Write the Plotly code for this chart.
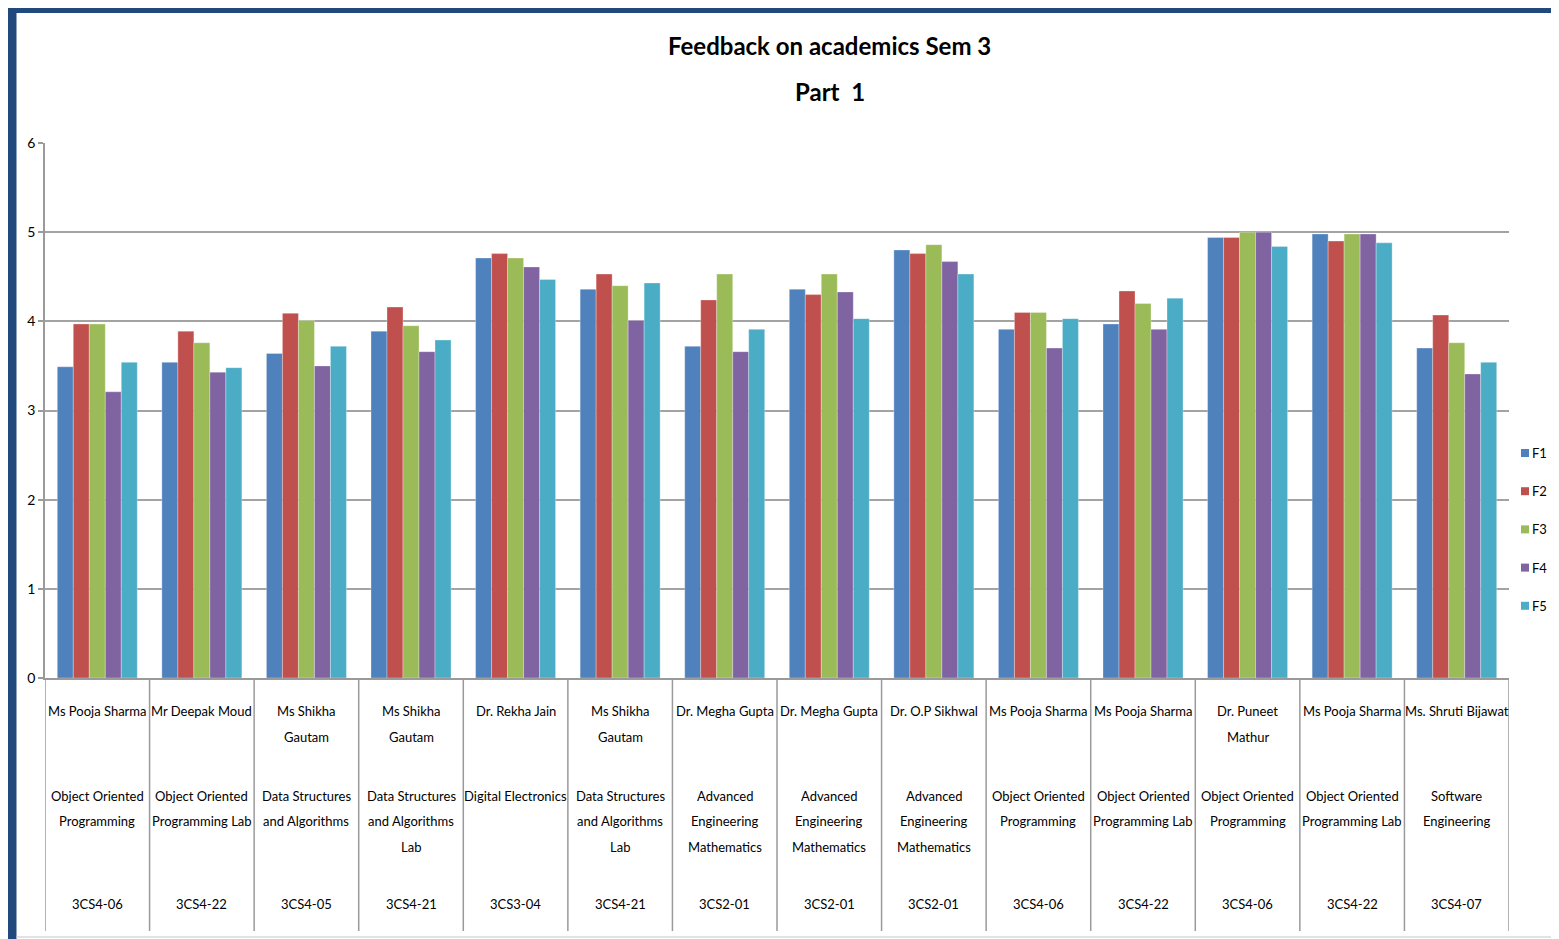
import plotly.graph_objects as go

teachers = [
    "Ms Pooja Sharma", "Mr Deepak Moud", "Ms Shikha<br>Gautam", "Ms Shikha<br>Gautam",
    "Dr. Rekha Jain", "Ms Shikha<br>Gautam", "Dr. Megha Gupta", "Dr. Megha Gupta",
    "Dr. O.P Sikhwal", "Ms Pooja Sharma", "Ms Pooja Sharma", "Dr. Puneet<br>Mathur",
    "Ms Pooja Sharma", "Ms. Shruti Bijawat",
]
subjects = [
    "Object Oriented<br>Programming", "Object Oriented<br>Programming Lab",
    "Data Structures<br>and Algorithms", "Data Structures<br>and Algorithms<br>Lab",
    "Digital Electronics", "Data Structures<br>and Algorithms<br>Lab",
    "Advanced<br>Engineering<br>Mathematics", "Advanced<br>Engineering<br>Mathematics",
    "Advanced<br>Engineering<br>Mathematics", "Object Oriented<br>Programming",
    "Object Oriented<br>Programming Lab", "Object Oriented<br>Programming",
    "Object Oriented<br>Programming Lab", "Software<br>Engineering",
]
codes = [
    "3CS4-06", "3CS4-22", "3CS4-05", "3CS4-21", "3CS3-04", "3CS4-21", "3CS2-01",
    "3CS2-01", "3CS2-01", "3CS4-06", "3CS4-22", "3CS4-06", "3CS4-22", "3CS4-07",
]

F1 = [3.49, 3.54, 3.64, 3.89, 4.71, 4.36, 3.72, 4.36, 4.80, 3.91, 3.97, 4.94, 4.98, 3.70]
F2 = [3.97, 3.89, 4.09, 4.16, 4.76, 4.53, 4.24, 4.30, 4.76, 4.10, 4.34, 4.94, 4.90, 4.07]
F3 = [3.97, 3.76, 4.01, 3.95, 4.71, 4.40, 4.53, 4.53, 4.86, 4.10, 4.20, 5.00, 4.98, 3.76]
F4 = [3.21, 3.43, 3.50, 3.66, 4.61, 4.01, 3.66, 4.33, 4.67, 3.70, 3.91, 5.00, 4.98, 3.41]
F5 = [3.54, 3.48, 3.72, 3.79, 4.47, 4.43, 3.91, 4.03, 4.53, 4.03, 4.26, 4.84, 4.88, 3.54]

series = {"F1": F1, "F2": F2, "F3": F3, "F4": F4, "F5": F5}
colors = {"F1": "#4F81BD", "F2": "#C0504D", "F3": "#9BBB59", "F4": "#8064A2", "F5": "#4BACC6"}

FONT = "Lato, Liberation Sans, sans-serif"

OFF = 8  # page body margin
W, H = 1559 - OFF, 939 - OFF
# plot area in page pixels
L, R, T, B = 45, 1509, 143, 678


def py(p):
    return (B - p) / (B - T)


def px(p):
    return (p - L) / (R - L)


n = len(codes)
xs = list(range(n))

fig = go.Figure()
for name, vals in series.items():
    fig.add_trace(go.Bar(
        x=xs, y=vals, name=name, marker_color=colors[name],
        marker_line=dict(color="rgba(255,255,255,0.5)", width=0.6),
        showlegend=False,
    ))

shapes = []
for i in range(n + 1):
    shapes.append(dict(type="line", xref="x", yref="paper", x0=i - 0.5, x1=i - 0.5,
                       y0=0, y1=py(931), line=dict(color="#9A9A9A", width=1.5)))
shapes.append(dict(type="rect", xref="paper", yref="paper", x0=px(0), x1=px(16.5),
                   y0=py(945), y1=py(5), fillcolor="#22497D", line=dict(width=0), layer="above"))
shapes.append(dict(type="rect", xref="paper", yref="paper", x0=px(0), x1=px(1570),
                   y0=py(13), y1=py(0), fillcolor="#22497D", line=dict(width=0), layer="above"))
shapes.append(dict(type="line", xref="paper", yref="paper", x0=px(16.5), x1=px(1570),
                   y0=py(937), y1=py(937), line=dict(color="#DADADA", width=1.5)))

annotations = []
annotations.append(dict(text="<b>Feedback on academics Sem 3</b>", xref="paper", yref="paper",
                        x=px(830), y=py(45), showarrow=False, xanchor="center", yanchor="middle",
                        font=dict(family=FONT, size=24, color="black")))
annotations.append(dict(text="<b>Part  1</b>", xref="paper", yref="paper",
                        x=px(830), y=py(92), showarrow=False, xanchor="center", yanchor="middle",
                        font=dict(family=FONT, size=24, color="black")))

# legend (drawn as swatches + labels at the right)
for k, name in enumerate(series):
    yc = 453 + k * 38.2
    shapes.append(dict(type="rect", xref="paper", yref="paper", x0=px(1521), x1=px(1529),
                       y0=py(yc + 4), y1=py(yc - 4), fillcolor=colors[name],
                       line=dict(width=0)))
    annotations.append(dict(text=name, xref="paper", yref="paper", x=px(1530), y=py(yc),
                            showarrow=False, xanchor="left", yanchor="middle",
                            font=dict(family=FONT, size=13, color="black")))

LH = 25.5


def add_lines(text, i, ytop):
    for k, line in enumerate(text.split("<br>")):
        annotations.append(dict(text=line, xref="x", yref="paper", x=i, y=py(ytop + k * LH),
                                showarrow=False, xanchor="center", yanchor="middle",
                                font=dict(family=FONT, size=13, color="black")))


for i in xs:
    add_lines(teachers[i], i, 711)
    add_lines(subjects[i], i, 796)
    add_lines(codes[i], i, 904)

fig.update_layout(
    width=W, height=H,
    margin=dict(l=L - OFF, r=W - (R - OFF), t=T - OFF, b=H - (B - OFF), pad=0, autoexpand=False),
    paper_bgcolor="white", plot_bgcolor="white",
    barmode="group", bargap=0.235, bargroupgap=0,
    font=dict(family=FONT, size=13, color="black"),
    xaxis=dict(range=[-0.5, n - 0.5], showticklabels=False, showgrid=False, zeroline=False,
               showline=True, linecolor="#9A9A9A", linewidth=1.5, ticks=""),
    yaxis=dict(range=[0, 6], dtick=1, showgrid=True, gridcolor="#A3A3A3", gridwidth=2,
               zeroline=False, showline=True, linecolor="#9A9A9A", linewidth=1.5,
               ticks="outside", ticklen=5, tickcolor="#9A9A9A", tickwidth=1.5,
               tickfont=dict(family=FONT, size=14, color="black")),
    showlegend=False,
    shapes=shapes, annotations=annotations,
)

fig.write_html("out.html")
